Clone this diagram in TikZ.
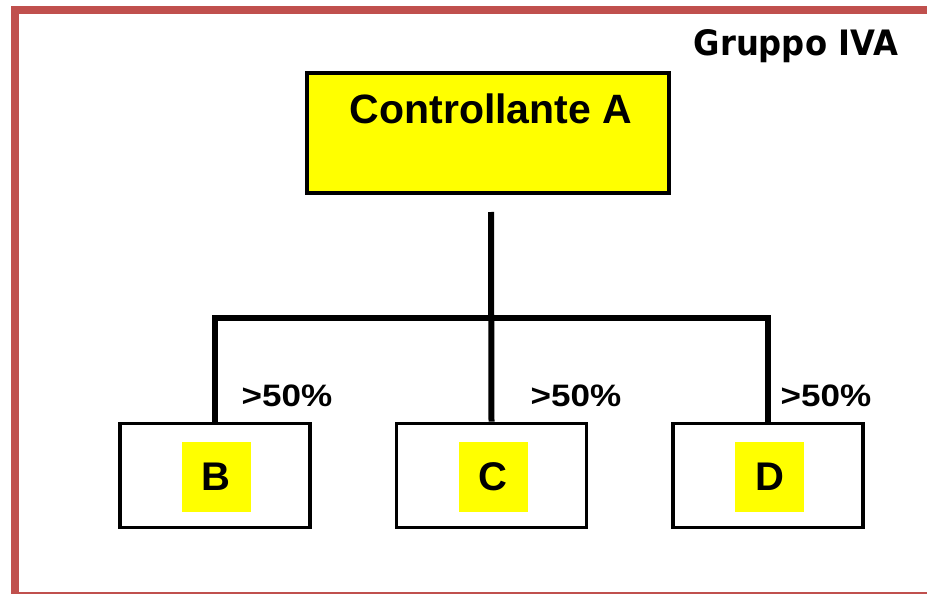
\documentclass[tikz,border=0pt]{standalone}
\usepackage{fontspec}
\setmainfont{Liberation Sans}
\newfontfamily\grpfont{DejaVu Sans}[FakeStretch=0.92]
\newfontfamily\sharefont{Liberation Sans}[FakeStretch=1.13]
\usepackage{xcolor}
\usetikzlibrary{positioning}
\definecolor{framered}{RGB}{192,80,77}
\definecolor{tagyellow}{RGB}{255,255,0}

\begin{document}
\begin{tikzpicture}[
    x=1pt, y=-1pt,
    parent/.style={rectangle, draw, line width=4pt, fill=tagyellow, minimum width=362pt, inner sep=0pt, text height=50pt, text depth=70pt, font=\fontsize{41}{41}\selectfont\bfseries},
    entity/.style={rectangle, draw, line width=3.7pt, minimum width=190pt, minimum height=104pt},
    tag/.style={rectangle, fill=tagyellow, minimum width=69pt, minimum height=70pt, inner sep=0pt, font=\fontsize{40}{40}\selectfont\bfseries},
    share/.style={anchor=base west, inner sep=0pt, font=\sharefont\fontsize{31}{31}\selectfont\bfseries},
    link/.style={line width=6pt, line join=miter}
]
\useasboundingbox (0,0) rectangle (927,594);
\draw[framered, line width=8pt] (15,10) rectangle (940,596);

\node[anchor=base west, inner sep=0pt, font=\grpfont\bfseries\fontsize{35}{35}\selectfont] (group) at (693.5,56) {Gruppo IVA};

\node[parent] (ctrl) at (488,133) {\hspace*{6pt}Controllante A};

\node[entity] (c) at (491.5,475.5) {};
\node[entity, left=83pt of c] (b) {};
\node[entity, right=83pt of c] (d) {};

\node[tag] (btag) at ([shift={(1.5,1.5)}]b) {B};
\node[tag] (ctag) at ([shift={(1.5,1.5)}]c) {C};
\node[tag] (dtag) at ([shift={(1.5,1.5)}]d) {D};

\coordinate (trunk) at (491,212);
\coordinate (bar) at (491,318);
\draw[link] (trunk) -- (c.north);
\draw[link] (b.north) |- (bar) -| (d.north);

\node[share] (pb) at (241.5,406.5) {>50\%};
\node[share] (pc) at (530.5,406) {>50\%};
\node[share] (pd) at (780.5,406.5) {>50\%};

\end{tikzpicture}
\end{document}
